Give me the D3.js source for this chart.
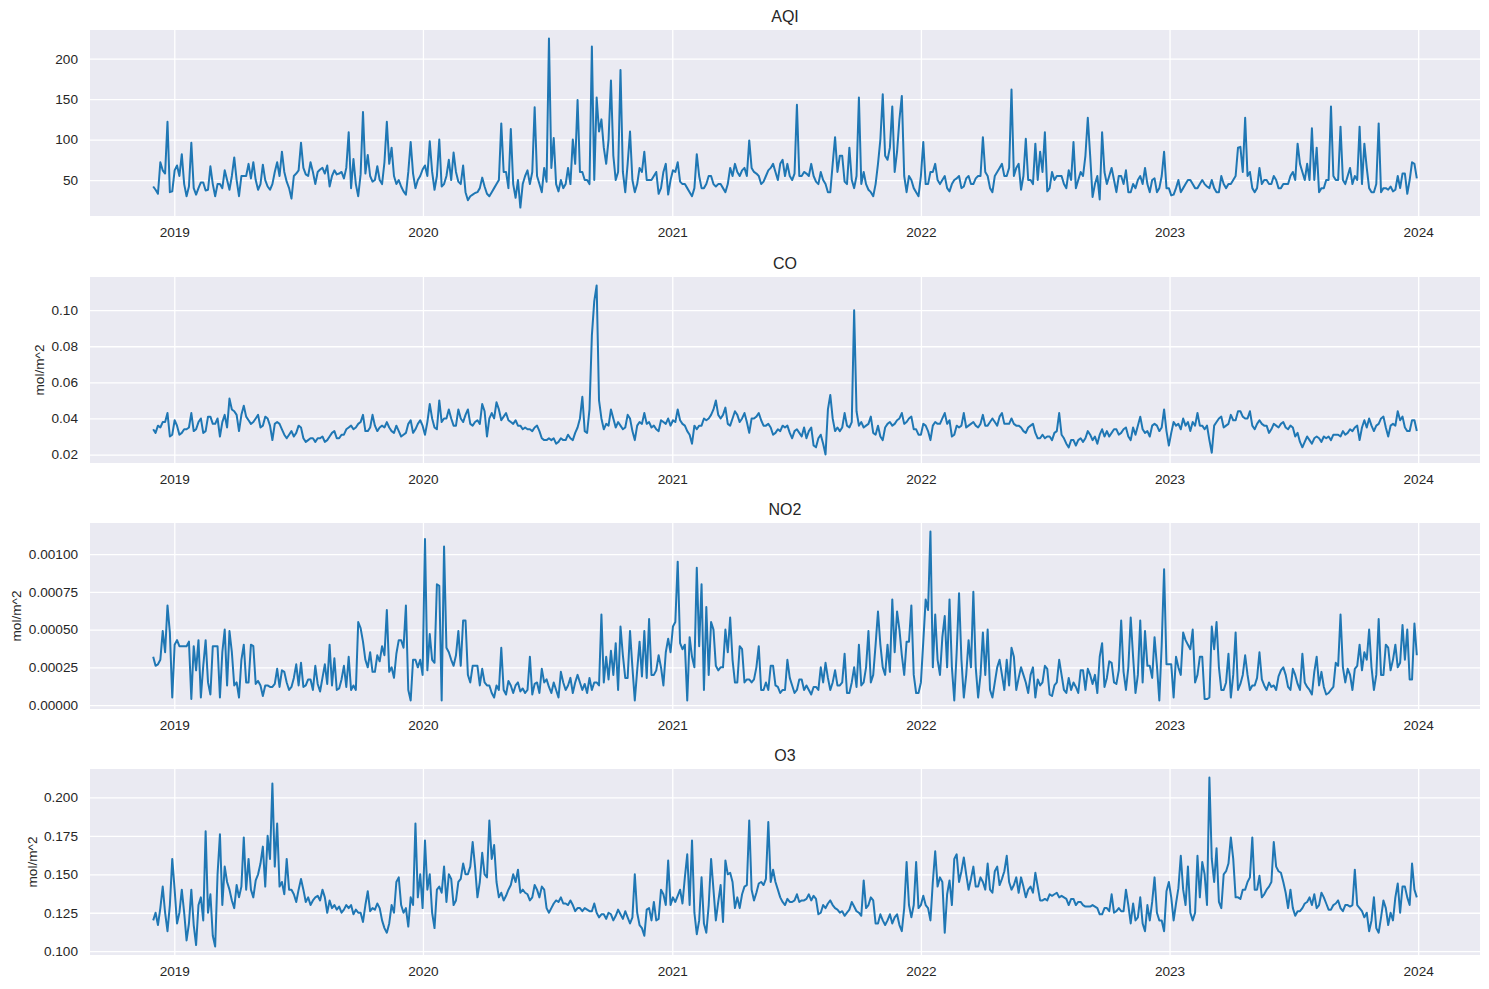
<!DOCTYPE html>
<html>
<head>
<meta charset="utf-8">
<script src="https://cdn.jsdelivr.net/npm/d3@7"></script>
<style>
  body { margin: 0; background: #ffffff; }
  svg { display: block; }
</style>
</head>
<body>
<svg id="chart" width="1489" height="989"></svg>
<script>
// ---------- DATA (half-weekly readings) ----------
const startDate = "2018-12-01";
const stepHours = 84;   // one reading every 3.5 days
const yearTicks = ["2019", "2020", "2021", "2022", "2023", "2024"];

const titles = ["AQI", "CO", "NO2", "O3"];
const yLabels = ["", "mol/m^2", "mol/m^2", "mol/m^2"];

const aqiTicks = [50, 100, 150, 200];
const coTicks = [0.02, 0.04, 0.06, 0.08, 0.10];
const no2Ticks = [0, 0.00025, 0.0005, 0.00075, 0.001];
const o3Ticks = [0.100, 0.125, 0.150, 0.175, 0.200];

const aqi = [
42,38,33,72,62,58,122,35,36,62,68,55,82,45,30,42,96,40,32,40,
47,47,37,38,67,45,30,45,45,40,62,50,38,55,78,50,30,55,55,55,
70,52,72,50,38,45,69,50,42,38,45,60,72,55,85,60,48,40,27,55,
58,62,96,65,57,55,72,60,45,60,63,65,58,68,42,55,62,57,58,60,
52,65,109,40,76,45,30,57,134,58,81,55,48,50,67,50,45,72,122,70,
90,55,45,50,42,36,32,60,97,58,40,50,55,63,68,55,98,60,38,55,
100,42,45,55,75,50,84,60,48,45,68,35,25,30,32,34,35,40,53,42,
33,30,35,40,45,50,120,60,60,40,113,45,28,50,16,45,55,62,45,60,
140,55,45,35,65,48,225,65,102,45,36,50,40,45,65,45,100,70,149,60,
60,50,50,45,215,50,152,110,125,90,70,100,173,80,50,60,186,60,35,70,
110,50,35,45,65,60,85,50,50,50,55,60,33,40,60,70,32,50,62,60,
72,48,45,45,40,35,30,40,82,55,40,40,45,55,55,45,42,45,45,40,
35,45,65,55,70,60,55,62,65,55,99,65,60,58,55,45,48,55,62,65,
70,60,50,70,75,55,70,55,50,58,143,55,55,60,58,55,70,55,48,45,
60,50,45,35,35,70,103,60,80,80,48,45,90,50,40,55,152,45,60,45,
38,35,30,45,70,100,156,80,75,90,141,60,85,125,154,55,35,55,50,40,
35,30,55,97,45,45,60,60,70,50,45,50,55,40,36,45,50,52,55,40,
42,52,55,45,45,52,55,55,103,60,55,40,35,55,60,65,70,55,55,65,
162,55,65,70,38,55,101,50,50,45,95,50,85,60,109,36,40,60,50,55,
55,55,45,40,62,50,97,40,50,60,55,80,127,80,29,45,55,26,109,60,
45,55,65,50,35,55,55,45,62,35,35,45,40,50,55,45,65,45,35,50,
52,35,40,55,85,40,40,31,32,40,50,35,40,45,50,50,45,40,40,45,
50,45,42,40,50,40,35,35,55,45,40,45,45,50,55,90,91,60,127,55,
60,40,35,40,65,45,50,50,45,45,55,50,40,40,45,45,45,55,60,50,
95,70,60,50,70,50,114,50,90,35,40,40,50,50,141,55,50,50,116,50,
45,55,65,45,55,50,116,45,95,65,40,35,35,45,120,35,40,40,38,42,
36,38,55,40,58,58,33,50,72,70,52];

const co = [
.034,.032,.036,.035,.038,.038,.043,.030,.031,.039,.036,.031,.032,.034,.034,.035,.043,.033,.034,.038,
.040,.032,.033,.041,.041,.037,.037,.040,.030,.038,.042,.035,.051,.045,.044,.042,.033,.042,.047,.041,
.039,.037,.038,.040,.042,.035,.036,.041,.040,.036,.028,.037,.038,.037,.034,.031,.029,.031,.033,.030,
.032,.036,.035,.029,.027,.028,.029,.029,.027,.029,.029,.030,.027,.028,.030,.032,.033,.029,.029,.031,
.031,.034,.035,.036,.034,.035,.037,.038,.042,.033,.033,.035,.042,.036,.033,.035,.036,.035,.038,.035,
.033,.032,.036,.033,.030,.031,.032,.037,.039,.032,.034,.037,.039,.036,.031,.038,.048,.040,.035,.034,
.050,.038,.040,.040,.045,.040,.036,.036,.045,.040,.038,.042,.045,.037,.036,.038,.039,.037,.048,.044,
.030,.040,.043,.040,.049,.045,.039,.041,.043,.039,.038,.037,.039,.036,.036,.034,.035,.034,.034,.033,
.035,.036,.033,.029,.028,.028,.029,.028,.029,.026,.027,.029,.028,.028,.031,.029,.028,.032,.035,.040,
.052,.033,.032,.045,.086,.105,.1137,.050,.040,.034,.037,.036,.045,.040,.035,.038,.036,.034,.035,.042,
.040,.033,.028,.036,.038,.037,.043,.037,.038,.035,.036,.034,.033,.039,.038,.037,.040,.036,.039,.038,
.045,.039,.037,.036,.033,.031,.026,.036,.034,.036,.036,.040,.039,.040,.042,.045,.050,.042,.040,.042,
.046,.037,.036,.040,.044,.042,.038,.040,.043,.038,.032,.040,.040,.041,.043,.039,.036,.036,.037,.035,
.031,.032,.034,.033,.036,.035,.036,.032,.029,.033,.034,.032,.030,.035,.029,.033,.035,.025,.024,.029,
.031,.026,.020,.045,.053,.040,.033,.035,.033,.035,.043,.036,.035,.038,.100,.044,.036,.038,.035,.036,
.037,.041,.032,.031,.036,.030,.028,.035,.037,.038,.036,.037,.039,.040,.043,.037,.038,.040,.041,.034,
.034,.031,.031,.037,.036,.033,.028,.036,.038,.037,.037,.040,.043,.037,.039,.030,.031,.036,.035,.036,
.043,.035,.036,.037,.038,.036,.035,.037,.042,.036,.036,.038,.040,.038,.036,.041,.043,.037,.037,.037,
.040,.037,.036,.036,.035,.033,.032,.035,.036,.037,.032,.029,.029,.031,.029,.030,.030,.028,.032,.033,
.043,.031,.029,.026,.024,.028,.028,.025,.028,.029,.027,.029,.033,.031,.028,.030,.026,.031,.034,.030,
.033,.030,.032,.034,.034,.031,.032,.034,.035,.030,.028,.035,.031,.036,.041,.034,.032,.033,.030,.036,
.037,.036,.033,.035,.045,.033,.025,.032,.038,.036,.037,.034,.040,.036,.038,.033,.038,.036,.043,.036,
.036,.034,.036,.028,.021,.036,.038,.040,.041,.035,.036,.037,.042,.039,.039,.044,.044,.041,.040,.040,
.044,.036,.034,.037,.039,.037,.036,.036,.032,.034,.037,.036,.035,.037,.038,.035,.034,.036,.035,.030,
.032,.027,.024,.027,.030,.028,.026,.029,.030,.029,.027,.030,.029,.030,.028,.031,.031,.031,.030,.033,
.031,.032,.034,.033,.035,.036,.028,.035,.039,.035,.040,.036,.033,.036,.037,.040,.041,.035,.030,.036,
.037,.036,.044,.039,.041,.035,.033,.033,.039,.039,.033];

const no2 = [
3.2e-4,2.6e-4,2.7e-4,3.0e-4,4.9e-4,3.5e-4,6.6e-4,4.8e-4,0.5e-4,4.0e-4,4.3e-4,3.9e-4,3.9e-4,3.9e-4,3.9e-4,4.2e-4,0.4e-4,3.9e-4,2.3e-4,4.3e-4,
0.5e-4,2.6e-4,4.3e-4,1.5e-4,0.7e-4,3.9e-4,3.9e-4,3.9e-4,0.5e-4,3.5e-4,5.0e-4,1.3e-4,4.9e-4,3.5e-4,1.3e-4,1.5e-4,0.5e-4,3.0e-4,4.0e-4,1.5e-4,
1.5e-4,4.0e-4,3.9e-4,1.4e-4,1.6e-4,1.3e-4,0.6e-4,1.3e-4,1.3e-4,1.2e-4,1.2e-4,1.4e-4,2.4e-4,1.2e-4,2.3e-4,2.2e-4,1.5e-4,1.0e-4,1.2e-4,1.8e-4,
2.7e-4,1.3e-4,2.8e-4,1.2e-4,1.3e-4,1.7e-4,1.7e-4,1.0e-4,2.6e-4,1.4e-4,0.9e-4,1.8e-4,2.7e-4,1.4e-4,4.0e-4,1.3e-4,3.1e-4,1.0e-4,1.1e-4,1.7e-4,
2.6e-4,1.2e-4,3.2e-4,1.0e-4,1.3e-4,1.0e-4,5.5e-4,5.1e-4,4.2e-4,3.0e-4,2.5e-4,3.5e-4,2.2e-4,2.2e-4,3.3e-4,2.9e-4,3.9e-4,3.3e-4,6.3e-4,2.2e-4,
2.5e-4,1.8e-4,3.4e-4,4.3e-4,4.3e-4,3.8e-4,6.6e-4,1.0e-4,0.3e-4,3.0e-4,3.0e-4,2.5e-4,3.0e-4,2.0e-4,11.0e-4,2.3e-4,4.7e-4,3.0e-4,2.8e-4,8.0e-4,
7.9e-4,0.3e-4,10.5e-4,3.8e-4,3.5e-4,3.0e-4,2.6e-4,3.3e-4,4.9e-4,2.6e-4,5.6e-4,5.6e-4,2.0e-4,1.5e-4,2.6e-4,2.6e-4,2.6e-4,1.3e-4,2.4e-4,1.5e-4,
1.3e-4,1.3e-4,0.8e-4,0.5e-4,1.3e-4,1.0e-4,3.8e-4,1.0e-4,0.7e-4,1.6e-4,1.3e-4,0.8e-4,1.3e-4,1.5e-4,0.9e-4,1.1e-4,0.8e-4,1.0e-4,3.2e-4,0.7e-4,
1.4e-4,1.5e-4,0.8e-4,2.4e-4,1.5e-4,1.7e-4,1.2e-4,0.8e-4,1.5e-4,1.0e-4,0.5e-4,2.2e-4,1.5e-4,1.0e-4,1.3e-4,1.8e-4,0.8e-4,1.5e-4,2.0e-4,1.5e-4,
1.0e-4,1.4e-4,0.8e-4,1.8e-4,1.0e-4,1.5e-4,1.5e-4,1.3e-4,6.0e-4,1.5e-4,3.2e-4,1.7e-4,3.6e-4,2.0e-4,4.1e-4,1.0e-4,5.2e-4,3.3e-4,1.8e-4,1.8e-4,
4.9e-4,2.5e-4,0.3e-4,2.3e-4,4.2e-4,1.9e-4,4.9e-4,1.8e-4,5.7e-4,2.0e-4,2.0e-4,2.3e-4,3.3e-4,2.5e-4,1.3e-4,3.5e-4,4.4e-4,3.5e-4,5.2e-4,5.5e-4,
9.5e-4,4.1e-4,3.7e-4,4.0e-4,0.3e-4,4.5e-4,3.2e-4,2.5e-4,9.1e-4,3.9e-4,8.0e-4,1.0e-4,6.5e-4,2.0e-4,5.5e-4,5.0e-4,2.6e-4,2.3e-4,2.5e-4,2.5e-4,
5.0e-4,3.5e-4,5.8e-4,3.0e-4,1.5e-4,1.5e-4,3.9e-4,3.7e-4,1.5e-4,1.7e-4,1.7e-4,1.5e-4,1.7e-4,2.5e-4,3.9e-4,1.0e-4,1.0e-4,1.5e-4,1.0e-4,2.6e-4,
2.6e-4,1.3e-4,1.2e-4,0.8e-4,1.0e-4,1.0e-4,3.0e-4,1.8e-4,1.3e-4,0.8e-4,1.0e-4,1.7e-4,1.7e-4,1.0e-4,1.3e-4,1.0e-4,0.7e-4,1.2e-4,1.2e-4,1.0e-4,
2.5e-4,1.5e-4,2.8e-4,1.8e-4,1.0e-4,1.5e-4,2.3e-4,1.3e-4,1.3e-4,1.5e-4,3.4e-4,0.8e-4,0.8e-4,1.5e-4,2.5e-4,1.2e-4,4.0e-4,1.3e-4,1.5e-4,2.5e-4,
4.9e-4,1.5e-4,2.0e-4,4.0e-4,6.2e-4,4.0e-4,2.5e-4,2.0e-4,4.0e-4,2.2e-4,7.0e-4,3.5e-4,6.2e-4,5.0e-4,3.3e-4,2.0e-4,4.2e-4,4.2e-4,6.6e-4,2.0e-4,
0.8e-4,0.8e-4,1.5e-4,4.2e-4,7.0e-4,6.3e-4,11.5e-4,2.5e-4,6.0e-4,3.0e-4,2.0e-4,4.5e-4,5.9e-4,2.5e-4,7.0e-4,2.5e-4,0.3e-4,3.5e-4,7.4e-4,3.0e-4,
0.5e-4,2.0e-4,4.3e-4,2.5e-4,7.5e-4,2.5e-4,0.5e-4,2.0e-4,4.8e-4,2.0e-4,5.0e-4,1.0e-4,0.5e-4,1.5e-4,2.5e-4,3.0e-4,2.0e-4,1.0e-4,3.0e-4,1.3e-4,
3.8e-4,3.2e-4,1.0e-4,1.8e-4,2.5e-4,2.0e-4,1.5e-4,0.8e-4,2.0e-4,2.5e-4,0.5e-4,1.7e-4,1.3e-4,1.5e-4,2.6e-4,2.4e-4,0.7e-4,0.6e-4,1.3e-4,1.5e-4,
3.0e-4,2.0e-4,1.0e-4,0.8e-4,1.8e-4,1.0e-4,1.5e-4,1.2e-4,0.8e-4,2.3e-4,2.3e-4,1.0e-4,2.4e-4,2.0e-4,1.4e-4,2.0e-4,0.8e-4,3.2e-4,4.1e-4,1.2e-4,
1.8e-4,2.9e-4,2.8e-4,1.5e-4,1.4e-4,2.3e-4,5.6e-4,2.2e-4,1.0e-4,2.5e-4,5.8e-4,3.2e-4,0.8e-4,2.0e-4,5.6e-4,1.5e-4,4.9e-4,2.6e-4,2.6e-4,1.8e-4,
4.5e-4,2.6e-4,0.3e-4,4.0e-4,9.0e-4,2.7e-4,2.7e-4,2.7e-4,0.5e-4,3.2e-4,2.5e-4,2.0e-4,4.8e-4,4.3e-4,4.0e-4,3.7e-4,5.0e-4,1.5e-4,2.0e-4,3.2e-4,
3.2e-4,0.4e-4,0.4e-4,0.5e-4,5.2e-4,3.7e-4,5.5e-4,2.5e-4,1.0e-4,1.0e-4,1.5e-4,3.4e-4,0.5e-4,2.0e-4,4.8e-4,1.0e-4,1.4e-4,2.0e-4,3.3e-4,2.0e-4,
1.0e-4,1.3e-4,1.3e-4,1.8e-4,3.5e-4,1.7e-4,1.3e-4,1.0e-4,1.5e-4,1.2e-4,1.3e-4,1.0e-4,1.9e-4,2.3e-4,2.5e-4,2.0e-4,1.2e-4,1.0e-4,2.4e-4,2.0e-4,
1.4e-4,1.0e-4,3.4e-4,1.5e-4,1.2e-4,1.0e-4,0.7e-4,2.2e-4,3.2e-4,1.3e-4,2.2e-4,1.2e-4,0.7e-4,0.8e-4,1.0e-4,1.2e-4,2.8e-4,2.6e-4,6.0e-4,2.5e-4,
1.5e-4,2.4e-4,2.0e-4,1.0e-4,2.4e-4,2.6e-4,4.0e-4,2.3e-4,3.5e-4,3.0e-4,5.0e-4,2.5e-4,1.0e-4,2.0e-4,5.7e-4,2.0e-4,2.0e-4,4.0e-4,3.8e-4,2.3e-4,
3.0e-4,4.0e-4,2.5e-4,2.8e-4,5.3e-4,3.0e-4,5.0e-4,1.7e-4,1.7e-4,5.4e-4,3.3e-4];

const o3 = [
.120,.125,.117,.128,.142,.125,.113,.130,.160,.140,.118,.125,.140,.125,.107,.118,.140,.117,.104,.130,
.135,.120,.178,.125,.137,.110,.103,.150,.176,.130,.155,.145,.140,.133,.128,.143,.135,.142,.174,.140,
.160,.140,.135,.146,.150,.157,.168,.142,.175,.160,.209,.155,.183,.142,.145,.137,.160,.140,.140,.137,
.132,.140,.147,.140,.132,.135,.130,.133,.135,.136,.133,.140,.135,.125,.133,.128,.130,.127,.129,.125,
.127,.130,.128,.130,.124,.127,.125,.125,.119,.130,.139,.126,.128,.127,.131,.128,.120,.115,.112,.118,
.130,.125,.145,.148,.130,.125,.128,.116,.135,.130,.183,.135,.150,.128,.172,.140,.150,.125,.115,.140,
.142,.138,.155,.132,.150,.147,.130,.133,.145,.147,.157,.150,.150,.155,.171,.155,.135,.145,.164,.150,
.148,.185,.160,.169,.145,.135,.138,.133,.136,.140,.143,.150,.145,.153,.138,.140,.138,.137,.133,.135,
.143,.140,.135,.142,.140,.128,.125,.128,.131,.133,.132,.135,.131,.131,.130,.133,.130,.126,.128,.128,
.126,.128,.127,.126,.126,.131,.125,.122,.124,.124,.121,.125,.124,.120,.123,.127,.124,.121,.126,.122,
.118,.122,.150,.125,.117,.115,.110,.127,.128,.120,.132,.120,.121,.140,.137,.130,.159,.130,.135,.132,
.136,.140,.131,.148,.163,.130,.172,.125,.111,.120,.148,.118,.112,.130,.160,.140,.120,.132,.143,.119,
.159,.150,.151,.145,.128,.135,.128,.137,.142,.143,.185,.140,.133,.138,.144,.145,.143,.147,.184,.145,
.153,.145,.140,.135,.132,.130,.134,.132,.132,.133,.137,.132,.133,.133,.134,.137,.133,.136,.134,.124,
.125,.130,.128,.131,.133,.130,.128,.127,.125,.126,.123,.125,.127,.132,.129,.126,.125,.123,.146,.128,
.130,.135,.133,.118,.118,.124,.120,.117,.120,.124,.118,.122,.124,.117,.113,.128,.158,.130,.122,.130,
.158,.128,.130,.136,.130,.128,.120,.145,.165,.142,.148,.145,.112,.137,.146,.130,.160,.163,.145,.152,
.161,.150,.140,.147,.155,.142,.142,.148,.145,.140,.157,.140,.138,.152,.155,.143,.147,.152,.162,.145,
.140,.143,.148,.138,.148,.142,.135,.140,.142,.138,.151,.142,.133,.133,.134,.133,.137,.136,.137,.138,
.135,.136,.135,.134,.130,.134,.134,.130,.132,.132,.130,.129,.129,.129,.130,.129,.128,.124,.124,.128,
.128,.126,.137,.125,.126,.128,.126,.126,.140,.130,.118,.131,.120,.122,.135,.118,.113,.130,.120,.132,
.148,.125,.120,.120,.113,.139,.145,.135,.120,.131,.141,.162,.140,.130,.155,.125,.120,.125,.162,.135,
.158,.150,.130,.213,.160,.145,.167,.132,.128,.150,.152,.157,.174,.160,.135,.135,.134,.140,.140,.145,
.148,.174,.140,.140,.149,.135,.137,.140,.142,.145,.171,.155,.152,.151,.145,.138,.128,.140,.128,.123,
.126,.126,.128,.131,.132,.135,.130,.137,.128,.130,.138,.135,.131,.127,.127,.130,.131,.133,.128,.126,
.130,.130,.129,.130,.153,.130,.128,.126,.122,.125,.113,.120,.135,.115,.112,.122,.133,.128,.117,.125,
.120,.135,.144,.125,.142,.142,.135,.130,.157,.140,.135];

// ---------- LAYOUT / STYLE ----------
const W = 1489, H = 989;
const L = 90, R = 1480;
const panelTops = [30, 277, 523, 769];
const panelH = 186;
const yLabelX = [0, 44.2, 20.8, 36.5];
const FONT = "'Liberation Sans', Arial, Helvetica, sans-serif";
const TEXT = "#262626";
const BG = "#eaeaf2";
const LINE = "#1f77b4";

const panels = [
  { title: titles[0], values: aqi, ticks: aqiTicks, fmt: d3.format("d"), ylabel: yLabels[0] },
  { title: titles[1], values: co, ticks: coTicks, fmt: d3.format(".2f"), ylabel: yLabels[1] },
  { title: titles[2], values: no2, ticks: no2Ticks, fmt: d3.format(".5f"), ylabel: yLabels[2] },
  { title: titles[3], values: o3, ticks: o3Ticks, fmt: d3.format(".3f"), ylabel: yLabels[3] }
];

const svg = d3.select("#chart");
svg.append("rect").attr("width", W).attr("height", H).attr("fill", "#ffffff");

const t0 = d3.utcParse("%Y-%m-%d")(startDate);
const yearDates = yearTicks.map(d3.utcParse("%Y"));

panels.forEach((p, k) => {
  const top = panelTops[k];
  const bottom = top + panelH;
  const dates = p.values.map((_, i) => d3.utcHour.offset(t0, i * stepHours));

  const [d0, d1] = d3.extent(dates);
  const dp = (d1 - d0) * 0.05;
  const x = d3.scaleUtc()
    .domain([new Date(+d0 - dp), new Date(+d1 + dp)])
    .range([L, R]);

  const [v0, v1] = d3.extent(p.values);
  const vp = (v1 - v0) * 0.05;
  const y = d3.scaleLinear().domain([v0 - vp, v1 + vp]).range([bottom, top]);

  const g = svg.append("g");
  g.append("rect")
    .attr("x", L).attr("y", top)
    .attr("width", R - L).attr("height", panelH)
    .attr("fill", BG);

  // y grid + tick labels
  const ya = g.append("g")
    .attr("transform", `translate(${L},0)`)
    .call(d3.axisLeft(y).tickValues(p.ticks).tickFormat(p.fmt)
      .tickSize(-(R - L)).tickPadding(12));
  ya.select(".domain").remove();
  ya.attr("font-family", FONT).attr("font-size", 13.6).attr("color", TEXT);
  ya.selectAll("line").attr("stroke", "#ffffff").attr("stroke-width", 1.3);
  ya.selectAll("text").attr("fill", TEXT);

  // x grid + tick labels
  const xa = g.append("g")
    .attr("transform", `translate(0,${bottom})`)
    .call(d3.axisBottom(x).tickValues(yearDates).tickFormat(d3.utcFormat("%Y"))
      .tickSize(-panelH).tickPadding(11));
  xa.select(".domain").remove();
  xa.attr("font-family", FONT).attr("font-size", 13.6).attr("color", TEXT);
  xa.selectAll("line").attr("stroke", "#ffffff").attr("stroke-width", 1.3);
  xa.selectAll("text").attr("fill", TEXT);

  // data line
  g.append("path")
    .datum(p.values)
    .attr("fill", "none")
    .attr("stroke", LINE)
    .attr("stroke-width", 2)
    .attr("stroke-linejoin", "round")
    .attr("d", d3.line().x((d, i) => x(dates[i])).y(d => y(d)));

  // title
  g.append("text")
    .attr("x", (L + R) / 2).attr("y", top - 8)
    .attr("text-anchor", "middle")
    .attr("font-family", FONT).attr("font-size", 16)
    .attr("fill", TEXT)
    .text(p.title);

  // y label
  if (p.ylabel) {
    g.append("text")
      .attr("transform", `translate(${yLabelX[k]},${top + panelH / 2}) rotate(-90)`)
      .attr("text-anchor", "middle")
      .attr("font-family", FONT).attr("font-size", 13.6)
      .attr("fill", TEXT)
      .text(p.ylabel);
  }
});
</script>
</body>
</html>
